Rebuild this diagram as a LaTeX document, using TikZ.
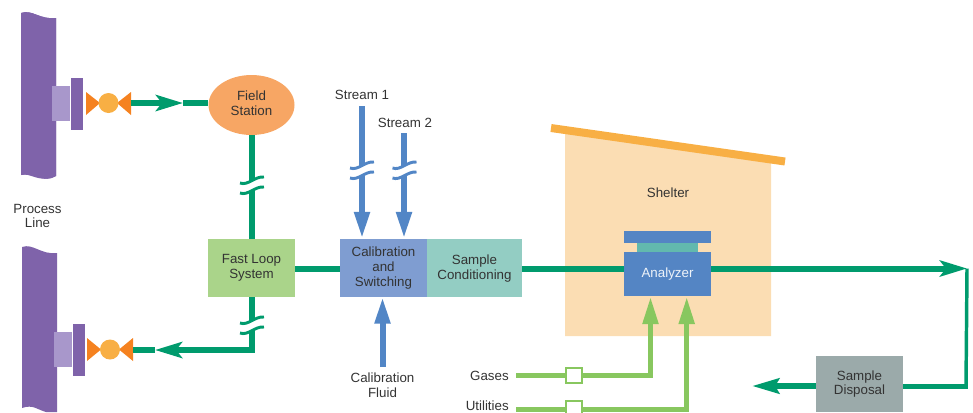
\documentclass[tikz,border=0pt]{standalone}
\usepackage{fontspec}
\setmainfont{Liberation Sans}
\usetikzlibrary{arrows.meta,shapes.geometric}
\definecolor{flow}{HTML}{009B6D}
\definecolor{pipe}{HTML}{7F63AA}
\definecolor{pipelt}{HTML}{A897CB}
\definecolor{valveor}{HTML}{F58220}
\definecolor{valveyl}{HTML}{F8AF44}
\definecolor{fieldc}{HTML}{F7A664}
\definecolor{fastc}{HTML}{AAD48A}
\definecolor{calc}{HTML}{7F9DD1}
\definecolor{condc}{HTML}{93CDC3}
\definecolor{anac}{HTML}{5485C4}
\definecolor{tealc}{HTML}{62B9AE}
\definecolor{shelterc}{HTML}{FBDDB3}
\definecolor{dispc}{HTML}{9BAAAA}
\definecolor{lgreen}{HTML}{88C75F}
\definecolor{bluec}{HTML}{5286C6}
\definecolor{txt}{HTML}{333333}
\tikzset{
  lbl/.style={font=\fontsize{10}{11}\selectfont,text=txt,align=center,inner sep=0pt},
  boxn/.style={lbl,minimum width=65.25pt,minimum height=43.5pt,inner sep=0pt},
  flowline/.style={draw=flow,line width=4.5pt},
  flowtip/.style={flowline,-{Stealth[length=20.25pt,width=12pt,inset=4.5pt]}},
  blueline/.style={draw=bluec,line width=4.5pt,-{Stealth[length=20pt,width=11pt,inset=0pt]}},
  gasline/.style={draw=lgreen,line width=3.75pt,-{Stealth[length=20.25pt,width=11.25pt,inset=0pt]}},
  brk/.style={line width=2.2pt,line cap=butt},
  gap/.style={draw=white,line width=7pt,line cap=butt},
  vbox/.style={draw=lgreen,fill=white,line width=1.5pt,minimum size=11.5pt,inner sep=0pt},
}
% #1 x, #2 y of the upper curve's left end, #3 colour
\newcommand{\linebreakmark}[3]{%
  \draw[gap] (#1-11,#2+5) .. controls (#1-3,#2+8) and (#1+3,#2-2) .. (#1+11,#2-1);
  \draw[brk,#3] (#1-12,#2) .. controls (#1-4,#2+3) and (#1+3,#2-7) .. (#1+12,#2-6);
  \draw[brk,#3] (#1-12,#2+10) .. controls (#1-4,#2+13) and (#1+3,#2+3) .. (#1+12,#2+4);
}
\begin{document}
\begin{tikzpicture}[x=.75pt,y=-.75pt]
\useasboundingbox (0,0) rectangle (973,412);
\clip (0,0) rectangle (973,412);
% shelter
\fill[shelterc] (565,130) -- (771,160) -- (771,336) -- (565,336) -- cycle;
\draw[valveyl,line width=6pt] (551,128) -- (785,161.5);
\node[lbl] (shelter) at (668,192.5) {Shelter};
% process pipes
\fill[pipe] (21,13) .. controls (32,9) and (40,20) .. (56,18) -- (56,176) .. controls (42,178) and (34,170) .. (21,175) -- (21,175) .. controls (30,172) and (40,184) .. (56,176) -- cycle;
\fill[pipe] (21,13) .. controls (32,9) and (40,20) .. (56,18) -- (56,176) .. controls (44,184) and (34,172) .. (21,175) -- cycle;
\fill[pipe] (22,247) .. controls (33,243) and (41,255) .. (57,253) -- (57,412) -- (46,412) .. controls (38,410) and (33,404) .. (22,408) -- cycle;
% flanges
\fill[pipelt] (52,86) rectangle (70,121);
\fill[pipe] (71,78) rectangle (83,130);
\fill[pipelt] (54,332) rectangle (72,367);
\fill[pipe] (73,324) rectangle (85,376);
% valves
\fill[valveor] (86,92) -- (100,103) -- (86,115) -- cycle;
\fill[valveor] (131,92) -- (117,103) -- (131,115) -- cycle;
\node[circle,fill=valveyl,minimum size=15pt,inner sep=0pt] (v1) at (108.5,103) {};
\coordinate (v1r) at (131,103);
\fill[valveor] (87,338) -- (101,349.5) -- (87,361) -- cycle;
\fill[valveor] (133,338) -- (119,349.5) -- (133,361) -- cycle;
\node[circle,fill=valveyl,minimum size=15pt,inner sep=0pt] (v2) at (110,349.5) {};
\coordinate (v2r) at (133,350);
% nodes
\node[ellipse,fill=fieldc,minimum width=64.5pt,minimum height=45pt,inner sep=0pt] (fs) at (251.5,105) {};
\node[lbl] (fst) at (251.5,103) {Field\\Station};
\node[boxn,fill=fastc] (fl) at (251.5,268) {};
\node[lbl] (flt) at (251.5,267.5) {Fast Loop\\System};
\node[boxn,fill=calc] (cal) at (383.5,268) {Calibration\\and\\Switching};
\node[boxn,fill=condc,minimum width=71.25pt] (cond) at (474.5,268) {};
\node[lbl] (condt) at (474.5,268.5) {Sample\\Conditioning};
\node[boxn,fill=dispc,minimum height=42pt] (disp) at (859.5,384) {Sample\\Disposal};
\node[lbl,fill=anac,text=white!90!anac,minimum width=65.25pt,minimum height=33pt] (ana) at (667.5,274) {Analyzer};
\node[fill=tealc,minimum width=45.75pt,minimum height=6.75pt,inner sep=0pt] (anat) at (667.5,247.5) {};
\node[fill=anac,minimum width=65.25pt,minimum height=9pt,inner sep=0pt] (anap) at (667.5,237) {};
% labels
\node[lbl] (pl) at (37.5,216) {Process\\Line};
\node[lbl] (s1) at (362,94.5) {Stream 1};
\node[lbl] (s2) at (405,122.5) {Stream 2};
\node[lbl] (cf) at (382.5,385) {Calibration\\Fluid};
\node[lbl,anchor=east] (gases) at (509,375.5) {Gases};
\node[lbl,anchor=east] (util) at (509,406) {Utilities};
% coordinates
\coordinate (a1) at (183,103);
\coordinate (c1) at (252,350);
\coordinate (a2) at (155,350);
\coordinate (ne) at (967,268.5);
\coordinate (se) at (966,386);
\coordinate (dl) at (752,386);
\coordinate (s1t) at (362,106);
\coordinate (s2t) at (404,133);
\coordinate (s1b) at (362,238.5);
\coordinate (s2b) at (404,238.5);
\coordinate (cft) at (382.5,297);
\coordinate (cfb) at (382.5,367);
\coordinate (gs) at (516,375.5);
\coordinate (ge) at (650.5,297);
\coordinate (us) at (516,409);
\coordinate (ue) at (686.7,297);
% flow lines
\draw[flowtip] (v1r) -- (a1);
\draw[flowline] (a1) -- (a1 -| fs.west);
\draw[flowline] (fs.south -| c1) -- (fl.north -| c1);
\linebreakmark{252}{183}{flow}
\draw[flowtip] (fl.south -| c1) -- (c1) -- (a2);
\draw[flowline] (a2) -- (v2r);
\linebreakmark{252}{323}{flow}
\draw[flowline] (fl.east |- ne) -- (cal.west |- ne);
\draw[flowline] (cond.east |- ne) -- (ana.west |- ne);
\draw[flowtip] (ana.east |- ne) -- (ne);
\draw[draw=flow,line width=2.6pt] (ne) -- (se);
\draw[draw=flow,line width=3.75pt] (se)++(1.8,0) -- (disp.east |- se);
\draw[flowline,-{Stealth[length=20.25pt,width=11.25pt,inset=3pt]}] (disp.west |- dl) -- (dl);
% blue lines
\draw[blueline] (s1t) -- (s1b);
\draw[blueline] (s2t) -- (s2b);
\draw[blueline] (cfb) -- (cft);
\linebreakmark{362}{168}{bluec}
\linebreakmark{404.5}{168}{bluec}
% gases
\draw[gasline] (gs) -| (ge);
\draw[gasline] (us) -| (ue);
\node[vbox] (gv) at (574,375.5) {};
\node[vbox] (uv) at (574,409) {};
\end{tikzpicture}
\end{document}
